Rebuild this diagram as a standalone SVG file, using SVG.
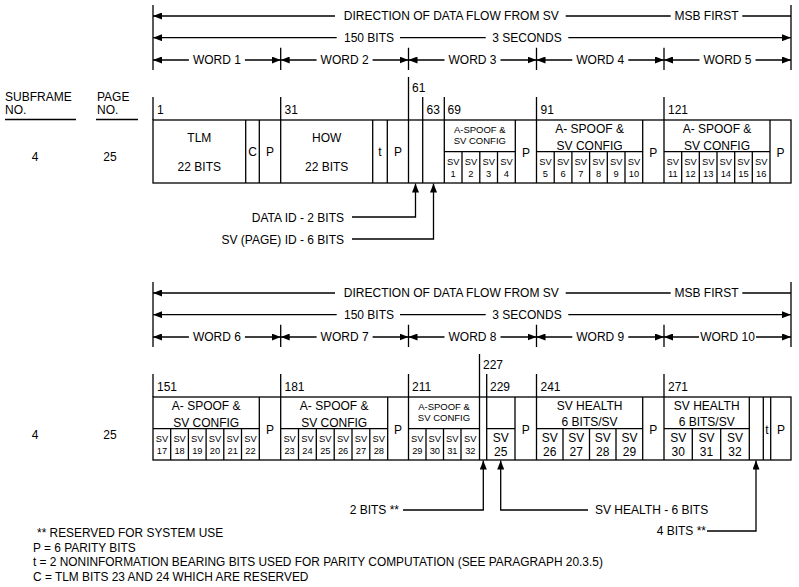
<svg xmlns="http://www.w3.org/2000/svg" width="799" height="587" viewBox="0 0 799 587">
<style>
text{font-family:"Liberation Sans",Arial,sans-serif;font-size:12px;fill:#000}
.c{text-anchor:middle}
.e{text-anchor:end}
.s{font-size:9.3px}
.m{font-size:9.5px}
.lg{font-size:11.9px}
.ln{stroke:#000;stroke-width:1.3;fill:none}
.hd{stroke:#000;stroke-width:1.3;fill:none;marker-end:url(#ah)}
</style>
<defs>
<marker id="ah" viewBox="0 0 9 7" refX="9" refY="3.5" markerWidth="9" markerHeight="7" markerUnits="userSpaceOnUse" orient="auto"><path d="M0,0L9,3.5L0,7z" fill="#000"/></marker>
<g id="header">
<path class="ln" d="M153,5V70M791,5V70M280.7,47.7V70M408.5,47.7V70M536.5,47.7V70M664,47.7V70"/>
<line class="hd" x1="335" y1="16" x2="153" y2="16"/>
<path class="ln" d="M565.7,16H670.7M742.3,16H791"/>
<text class="c" x="451.3" y="20.3">DIRECTION OF DATA FLOW FROM SV</text>
<text class="c" x="706.5" y="20.3">MSB FIRST</text>
<line class="hd" x1="336.7" y1="37.7" x2="153" y2="37.7"/>
<path class="ln" d="M400,37.7H485.7"/>
<line class="hd" x1="568.3" y1="37.7" x2="791" y2="37.7"/>
<text class="c" x="369" y="42">150 BITS</text>
<text class="c" x="527" y="42">3 SECONDS</text>
</g>
</defs>

<g id="left-labels">
<text x="5" y="101">SUBFRAME</text>
<text x="5" y="113.5">NO.</text>
<line class="ln" x1="5" y1="119.5" x2="76" y2="119.5"/>
<text x="97" y="101">PAGE</text>
<text x="97" y="113.5">NO.</text>
<line class="ln" x1="96" y1="119.5" x2="138" y2="119.5"/>
<text class="c" x="35" y="161">4</text>
<text class="c" x="110" y="161">25</text>
<text class="c" x="35" y="438.5">4</text>
<text class="c" x="110" y="438.5">25</text>
</g>

<!-- TOP HALF -->
<g id="header-top">
<use href="#header"/>
<line class="hd" x1="188.9" y1="60" x2="153" y2="60"/><line class="hd" x1="244.9" y1="60" x2="280.7" y2="60"/><text class="c" x="216.9" y="64.3">WORD 1</text>
<line class="hd" x1="316.6" y1="60" x2="280.7" y2="60"/><line class="hd" x1="372.6" y1="60" x2="408.5" y2="60"/><text class="c" x="344.6" y="64.3">WORD 2</text>
<line class="hd" x1="444.5" y1="60" x2="408.5" y2="60"/><line class="hd" x1="500.5" y1="60" x2="536.5" y2="60"/><text class="c" x="472.5" y="64.3">WORD 3</text>
<line class="hd" x1="572.3" y1="60" x2="536.5" y2="60"/><line class="hd" x1="628.3" y1="60" x2="664" y2="60"/><text class="c" x="600.3" y="64.3">WORD 4</text>
<line class="hd" x1="699.5" y1="60" x2="664" y2="60"/><line class="hd" x1="755.5" y1="60" x2="791" y2="60"/><text class="c" x="727.5" y="64.3">WORD 5</text>
</g>

<g id="bit-numbers-top">
<path class="ln" d="M153,97V120M280.7,97V120M408.5,77V120M422.7,97V120M444.3,97V120M536.5,97V120M664,97V120"/>
<text x="157" y="113.5">1</text>
<text x="284.5" y="113.5">31</text>
<text x="412" y="91.5">61</text>
<text x="426.5" y="113.5">63</text>
<text x="447.5" y="113.5">69</text>
<text x="540.5" y="113.5">91</text>
<text x="668" y="113.5">121</text>
</g>

<g id="frame-top">
<rect class="ln" x="153" y="120" width="638" height="63"/>
</g>
<g id="word1">
<path class="ln" d="M245.7,120V183M259.3,120V183"/>
<text class="c" x="199.3" y="142">TLM</text>
<text class="c" x="199.3" y="171">22 BITS</text>
<text class="c" x="252.5" y="156">C</text>
<text class="c" x="270" y="156">P</text>
</g>
<g id="word2">
<path class="ln" d="M280.7,120V183M372.7,120V183M387.3,120V183"/>
<text class="c" x="326.7" y="142">HOW</text>
<text class="c" x="326.7" y="171">22 BITS</text>
<text class="c" x="380" y="156">t</text>
<text class="c" x="398" y="156">P</text>
</g>
<g id="word3">
<path class="ln" d="M408.5,120V183M422.7,120V183M444.3,120V183M515.3,120V183M444.3,151.7H515.3M462,151.7V183M479.8,151.7V183M497.5,151.7V183"/>
<text class="c m" x="479.8" y="133">A-SPOOF &amp;</text>
<text class="c m" x="479.8" y="144">SV CONFIG</text>
<text class="c s" x="453.2" y="164.5">SV</text><text class="c s" x="453.2" y="176.5">1</text>
<text class="c s" x="470.9" y="164.5">SV</text><text class="c s" x="470.9" y="176.5">2</text>
<text class="c s" x="488.7" y="164.5">SV</text><text class="c s" x="488.7" y="176.5">3</text>
<text class="c s" x="506.4" y="164.5">SV</text><text class="c s" x="506.4" y="176.5">4</text>
<text class="c" x="525.9" y="157">P</text>
</g>
<g id="word4">
<path class="ln" d="M536.5,120V183M642.7,120V183M536.5,151.7H642.7M554.2,151.7V183M571.9,151.7V183M589.6,151.7V183M607.3,151.7V183M625,151.7V183"/>
<text class="c" x="589.6" y="133">A- SPOOF &amp;</text>
<text class="c" x="589.6" y="150">SV CONFIG</text>
<text class="c s" x="545.4" y="164.5">SV</text><text class="c s" x="545.4" y="176.5">5</text>
<text class="c s" x="563.1" y="164.5">SV</text><text class="c s" x="563.1" y="176.5">6</text>
<text class="c s" x="580.8" y="164.5">SV</text><text class="c s" x="580.8" y="176.5">7</text>
<text class="c s" x="598.5" y="164.5">SV</text><text class="c s" x="598.5" y="176.5">8</text>
<text class="c s" x="616.2" y="164.5">SV</text><text class="c s" x="616.2" y="176.5">9</text>
<text class="c s" x="633.9" y="164.5">SV</text><text class="c s" x="633.9" y="176.5">10</text>
<text class="c" x="653.3" y="157">P</text>
</g>
<g id="word5">
<path class="ln" d="M664,120V183M770,120V183M664,151.7H770M681.7,151.7V183M699.3,151.7V183M717,151.7V183M734.7,151.7V183M752.3,151.7V183"/>
<text class="c" x="717" y="133">A- SPOOF &amp;</text>
<text class="c" x="717" y="150">SV CONFIG</text>
<text class="c s" x="672.8" y="164.5">SV</text><text class="c s" x="672.8" y="176.5">11</text>
<text class="c s" x="690.5" y="164.5">SV</text><text class="c s" x="690.5" y="176.5">12</text>
<text class="c s" x="708.2" y="164.5">SV</text><text class="c s" x="708.2" y="176.5">13</text>
<text class="c s" x="725.8" y="164.5">SV</text><text class="c s" x="725.8" y="176.5">14</text>
<text class="c s" x="743.5" y="164.5">SV</text><text class="c s" x="743.5" y="176.5">15</text>
<text class="c s" x="761.2" y="164.5">SV</text><text class="c s" x="761.2" y="176.5">16</text>
<text class="c" x="780.5" y="157">P</text>
</g>

<!-- BOTTOM HALF -->
<g id="header-bottom" transform="translate(0,277)">
<use href="#header"/>
<line class="hd" x1="188.9" y1="60" x2="153" y2="60"/><line class="hd" x1="244.9" y1="60" x2="280.7" y2="60"/><text class="c" x="216.9" y="64.3">WORD 6</text>
<line class="hd" x1="316.6" y1="60" x2="280.7" y2="60"/><line class="hd" x1="372.6" y1="60" x2="408.5" y2="60"/><text class="c" x="344.6" y="64.3">WORD 7</text>
<line class="hd" x1="444.5" y1="60" x2="408.5" y2="60"/><line class="hd" x1="500.5" y1="60" x2="536.5" y2="60"/><text class="c" x="472.5" y="64.3">WORD 8</text>
<line class="hd" x1="572.3" y1="60" x2="536.5" y2="60"/><line class="hd" x1="628.3" y1="60" x2="664" y2="60"/><text class="c" x="600.3" y="64.3">WORD 9</text>
<line class="hd" x1="699" y1="60" x2="664" y2="60"/><line class="hd" x1="756" y1="60" x2="791" y2="60"/><text class="c" x="727.5" y="64.3">WORD 10</text>
</g>

<g id="bit-numbers-bottom" transform="translate(0,277)">
<path class="ln" d="M153,97V120M280.7,97V120M408.5,97V120M479.5,77V120M486.7,97V120M536.5,97V120M664,97V120"/>
<text x="157" y="113.5">151</text>
<text x="284.5" y="113.5">181</text>
<text x="412" y="113.5">211</text>
<text x="483" y="91.5">227</text>
<text x="490" y="113.5">229</text>
<text x="540.5" y="113.5">241</text>
<text x="668" y="113.5">271</text>
</g>

<g id="frame-bottom" transform="translate(0,277)">
<rect class="ln" x="153" y="120" width="638" height="63"/>
</g>
<g id="word6" transform="translate(0,277)">
<path class="ln" d="M259.3,120V183M153,151.7H259.3M170.7,151.7V183M188.4,151.7V183M206.1,151.7V183M223.8,151.7V183M241.5,151.7V183"/>
<text class="c" x="206.2" y="133">A- SPOOF &amp;</text>
<text class="c" x="206.2" y="150">SV CONFIG</text>
<text class="c s" x="161.9" y="164.5">SV</text><text class="c s" x="161.9" y="176.5">17</text>
<text class="c s" x="179.6" y="164.5">SV</text><text class="c s" x="179.6" y="176.5">18</text>
<text class="c s" x="197.3" y="164.5">SV</text><text class="c s" x="197.3" y="176.5">19</text>
<text class="c s" x="215" y="164.5">SV</text><text class="c s" x="215" y="176.5">20</text>
<text class="c s" x="232.7" y="164.5">SV</text><text class="c s" x="232.7" y="176.5">21</text>
<text class="c s" x="250.4" y="164.5">SV</text><text class="c s" x="250.4" y="176.5">22</text>
<text class="c" x="270" y="157">P</text>
</g>
<g id="word7" transform="translate(0,277)">
<path class="ln" d="M280.7,120V183M387.7,120V183M280.7,151.7H387.7M298.5,151.7V183M316.3,151.7V183M334.2,151.7V183M352,151.7V183M369.8,151.7V183"/>
<text class="c" x="334.2" y="133">A- SPOOF &amp;</text>
<text class="c" x="334.2" y="150">SV CONFIG</text>
<text class="c s" x="289.6" y="164.5">SV</text><text class="c s" x="289.6" y="176.5">23</text>
<text class="c s" x="307.4" y="164.5">SV</text><text class="c s" x="307.4" y="176.5">24</text>
<text class="c s" x="325.3" y="164.5">SV</text><text class="c s" x="325.3" y="176.5">25</text>
<text class="c s" x="343.1" y="164.5">SV</text><text class="c s" x="343.1" y="176.5">26</text>
<text class="c s" x="360.9" y="164.5">SV</text><text class="c s" x="360.9" y="176.5">27</text>
<text class="c s" x="378.8" y="164.5">SV</text><text class="c s" x="378.8" y="176.5">28</text>
<text class="c" x="398.1" y="157">P</text>
</g>
<g id="word8" transform="translate(0,277)">
<path class="ln" d="M408.5,120V183M479.5,120V183M486.7,120V183M515,120V183M408.5,151.7H479.5M486.7,151.7H515M426,151.7V183M443.5,151.7V183M461,151.7V183"/>
<text class="c m" x="444" y="133">A-SPOOF &amp;</text>
<text class="c m" x="444" y="144">SV CONFIG</text>
<text class="c s" x="417.3" y="164.5">SV</text><text class="c s" x="417.3" y="176.5">29</text>
<text class="c s" x="434.8" y="164.5">SV</text><text class="c s" x="434.8" y="176.5">30</text>
<text class="c s" x="452.3" y="164.5">SV</text><text class="c s" x="452.3" y="176.5">31</text>
<text class="c s" x="470.3" y="164.5">SV</text><text class="c s" x="470.3" y="176.5">32</text>
<text class="c" x="500.8" y="164.5">SV</text>
<text class="c" x="500.8" y="178.5">25</text>
<text class="c" x="525.8" y="157">P</text>
</g>
<g id="word9" transform="translate(0,277)">
<path class="ln" d="M536.5,120V183M642.7,120V183M536.5,151.7H642.7M563,151.7V183M589.5,151.7V183M616,151.7V183"/>
<text class="c" x="589.6" y="133.3">SV HEALTH</text>
<text class="c" x="589.6" y="149">6 BITS/SV</text>
<text class="c" x="549.8" y="164.5">SV</text><text class="c" x="549.8" y="178.5">26</text>
<text class="c" x="576.3" y="164.5">SV</text><text class="c" x="576.3" y="178.5">27</text>
<text class="c" x="602.8" y="164.5">SV</text><text class="c" x="602.8" y="178.5">28</text>
<text class="c" x="629.4" y="164.5">SV</text><text class="c" x="629.4" y="178.5">29</text>
<text class="c" x="653.3" y="157">P</text>
</g>
<g id="word10" transform="translate(0,277)">
<path class="ln" d="M664,120V183M749.3,120V183M763.3,120V183M770.7,120V183M664,151.7H749.3M692.3,151.7V183M720.7,151.7V183"/>
<text class="c" x="706.7" y="133.3">SV HEALTH</text>
<text class="c" x="706.7" y="149">6 BITS/SV</text>
<text class="c" x="678.2" y="164.5">SV</text><text class="c" x="678.2" y="178.5">30</text>
<text class="c" x="706.5" y="164.5">SV</text><text class="c" x="706.5" y="178.5">31</text>
<text class="c" x="735" y="164.5">SV</text><text class="c" x="735" y="178.5">32</text>
<text class="c" x="767" y="157">t</text>
<text class="c" x="780.9" y="157">P</text>
</g>

<g id="connectors">
<polyline class="hd" points="352,217 415.5,217 415.5,183.5"/>
<polyline class="hd" points="352,239 433.5,239 433.5,183.5"/>
<polyline class="hd" points="403,510 483.3,510 483.3,460.5"/>
<polyline class="hd" points="588,510 500.7,510 500.7,460.5"/>
<polyline class="hd" points="707,531 756,531 756,460.5"/>
</g>

<g id="callout-labels">
<text class="e" x="344" y="221.5">DATA ID - 2 BITS</text>
<text class="e" x="344" y="243.5">SV (PAGE) ID - 6 BITS</text>
<text class="e" x="399" y="514">2 BITS **</text>
<text x="595" y="514">SV HEALTH - 6 BITS</text>
<text class="e" x="706" y="535">4 BITS **</text>
</g>

<g id="legend">
<text class="lg" x="37" y="537">** RESERVED FOR SYSTEM USE</text>
<text class="lg" x="33" y="552">P = 6 PARITY BITS</text>
<text class="lg" x="33" y="566">t = 2 NONINFORMATION BEARING BITS USED FOR PARITY COMPUTATION (SEE PARAGRAPH 20.3.5)</text>
<text class="lg" x="33" y="581">C = TLM BITS 23 AND 24 WHICH ARE RESERVED</text>
</g>
</svg>
